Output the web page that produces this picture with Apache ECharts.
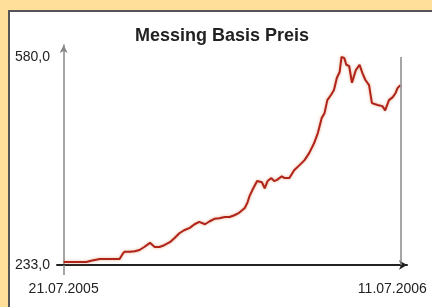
<!DOCTYPE html>
<html>
<head>
<meta charset="utf-8">
<script src="https://cdn.jsdelivr.net/npm/echarts@6/dist/echarts.min.js"></script>
<style>
  html, body { margin: 0; padding: 0; background: #ffdf99; overflow: hidden; }
  #panel { position: absolute; left: 8px; top: 10px; width: 440px; height: 310px; background: #fff; border-top: 2px solid #555; border-left: 2px solid #555; }
  #chart { position: absolute; left: 0; top: 0; width: 432px; height: 307px; }
</style>
</head>
<body>
<div id="panel"></div>
<div id="chart"></div>
<script>
// Tage seit 21.07.2005
const days = [0, 6, 17, 24, 29, 38, 48, 59, 62, 64, 70, 75, 80, 85, 91, 96, 101, 106, 112, 117,
  122, 127, 133, 138, 143, 149, 154, 159, 164, 170, 175, 180, 185, 191, 194, 196, 199, 201, 204, 209,
  212, 215, 219, 222, 225, 230, 233, 238, 243, 249, 254, 259, 264, 268, 272, 275, 278, 282, 285, 288,
  291, 293, 296, 298, 301, 304, 308, 312, 315, 318, 322, 325, 331, 336, 339, 343, 347, 350, 352, 355];
const prices = [238, 238, 238, 238, 240, 243, 243, 243, 251, 255, 255, 256, 258, 263, 270, 263, 263, 266, 271, 278,
  286, 291, 295, 301, 305, 301, 306, 310, 311, 313, 313, 316, 320, 328, 338, 348, 358, 361, 373, 371,
  361, 373, 378, 373, 375, 381, 378, 378, 391, 400, 408, 420, 436, 453, 478, 486, 508, 517, 525, 545,
  555, 580, 578, 567, 565, 537, 558, 567, 553, 542, 533, 503, 500, 498, 491, 508, 513, 520, 528, 533];
const xTickDays = [0, 355];
const xTickLabels = ['21.07.2005', '11.07.2006'];
const yTickValues = [233, 580];

const chart = echarts.init(document.getElementById('chart'));
const labelFont = '"Liberation Sans", Arial, sans-serif';

chart.setOption({
  animation: false,
  title: {
    text: 'Messing Basis Preis',
    left: 130,
    top: 22,
    textStyle: { fontFamily: '"Liberation Sans", Arial, sans-serif', fontSize: 18, fontWeight: 'bold', color: '#222' }
  },
  grid: { left: 57, right: 25, top: 45, bottom: 42 },
  xAxis: {
    type: 'value',
    min: -7,
    max: 362,
    splitLine: { show: false },
    axisLine: {
      lineStyle: { color: '#222', width: 2 },
      symbol: ['none', 'arrow'],
      symbolSize: [7, 8]
    },
    axisTick: { show: true, customValues: [0], length: 10, lineStyle: { color: '#888', width: 1.5 } },
    axisLabel: {
      customValues: xTickDays,
      margin: 17,
      fontFamily: labelFont,
      fontSize: 14,
      color: '#222',
      formatter: function (v) {
        const i = xTickDays.indexOf(v);
        return i === xTickDays.length - 1 ? '{r|' + xTickLabels[i] + '}' : xTickLabels[i];
      },
      rich: { r: { fontFamily: labelFont, fontSize: 14, color: '#222', padding: [0, 16, 0, 0] } }
    }
  },
  yAxis: {
    type: 'value',
    min: 233,
    max: 600,
    splitLine: { show: false },
    axisLine: {
      onZero: true,
      lineStyle: { color: '#888', width: 1.5 },
      symbol: ['none', 'arrow'],
      symbolSize: [6, 8]
    },
    axisTick: { show: false },
    axisLabel: {
      customValues: yTickValues,
      margin: 7,
      fontFamily: labelFont,
      fontSize: 14,
      color: '#222',
      formatter: function (v) { return v.toFixed(1).replace('.', ','); }
    }
  },
  series: [{
    type: 'line',
    data: days.map(function (d, i) { return [d, prices[i]]; }),
    showSymbol: false,
    lineStyle: { color: '#b0241a', width: 2, shadowColor: 'rgba(210,110,60,0.6)', shadowBlur: 3 },
    markLine: {
      silent: true,
      symbol: 'none',
      label: { show: false },
      lineStyle: { color: '#888', width: 1.5, type: 'solid' },
      data: [[{ coord: [xTickDays[1], yTickValues[0]] }, { coord: [xTickDays[1], yTickValues[1]] }]]
    }
  }]
});
</script>
</body>
</html>
